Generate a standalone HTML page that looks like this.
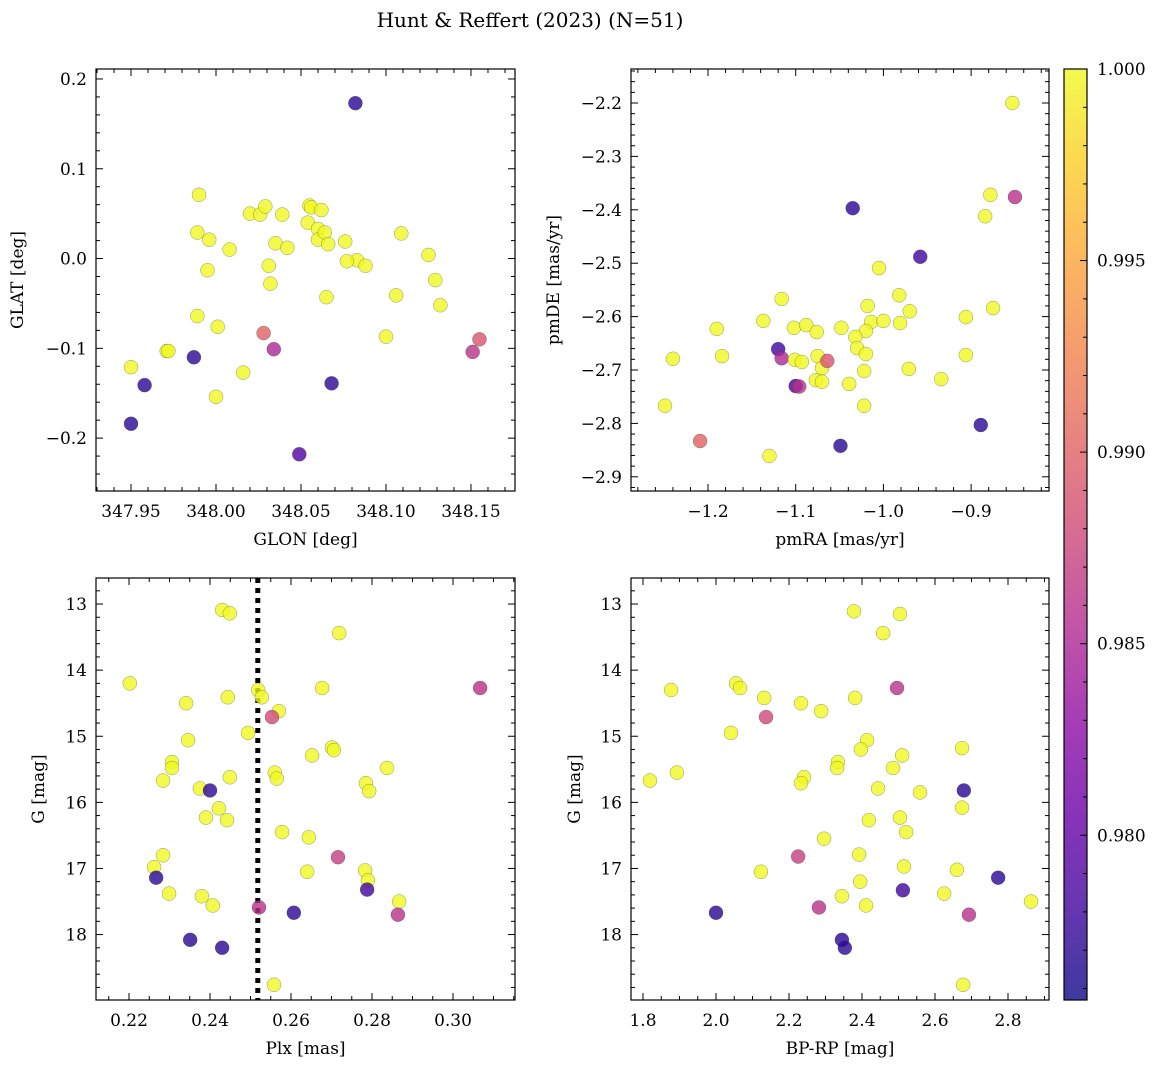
<!DOCTYPE html>
<html><head><meta charset="utf-8">
<style>
body{margin:0;background:#fff;}
svg{display:block;font-family:"DejaVu Serif","Liberation Serif",serif;}
</style></head>
<body>
<svg id="fig" width="1161" height="1068" viewBox="0 0 1161 1068" xmlns="http://www.w3.org/2000/svg">
<defs>
<linearGradient id="plasma" x1="0" y1="1" x2="0" y2="0">
<stop offset="0" stop-color="#0d0887"/><stop offset="0.1" stop-color="#41049d"/><stop offset="0.2" stop-color="#6a00a8"/><stop offset="0.3" stop-color="#8f0da4"/><stop offset="0.4" stop-color="#b12a90"/><stop offset="0.5" stop-color="#cc4778"/><stop offset="0.6" stop-color="#e16462"/><stop offset="0.7" stop-color="#f2844b"/><stop offset="0.8" stop-color="#fca636"/><stop offset="0.9" stop-color="#fcce25"/><stop offset="1" stop-color="#f0f921"/>
</linearGradient>
</defs>
<text x="530" y="27" font-size="20" text-anchor="middle">Hunt &amp; Reffert (2023) (N=51)</text>
</svg>
<script>
// ---- data ----
const glon=[348.082,347.990,348.020,348.026,348.029,348.039,348.055,348.056,348.062,347.989,347.996,348.008,348.035,348.042,348.054,348.060,348.060,348.064,348.066,348.076,348.083,348.077,348.088,348.109,348.125,348.129,348.132,348.106,348.065,348.031,348.032,347.995,347.989,348.001,348.100,348.028,348.034,347.971,347.972,347.987,347.950,347.958,348.016,348.000,348.068,348.151,348.155,347.950,348.049];
const glat=[0.173,0.071,0.050,0.049,0.058,0.049,0.059,0.057,0.054,0.029,0.021,0.010,0.017,0.012,0.040,0.033,0.021,0.029,0.016,0.019,-0.002,-0.003,-0.008,0.028,0.004,-0.024,-0.052,-0.041,-0.043,-0.008,-0.028,-0.013,-0.064,-0.076,-0.087,-0.083,-0.101,-0.103,-0.103,-0.110,-0.121,-0.141,-0.127,-0.154,-0.139,-0.104,-0.090,-0.184,-0.218];
const prob1=[0.977,1,1,1,1,1,1,1,1,1,1,1,1,1,1,1,1,1,1,1,1,1,1,1,1,1,1,1,1,1,1,1,1,1,1,0.990,0.985,1,1,0.977,1,0.977,1,1,0.977,0.986,0.989,0.977,0.979];

const pmra=[-0.853,-0.878,-0.884,-0.850,-1.035,-0.958,-1.005,-1.116,-0.982,-1.190,-1.137,-1.102,-1.088,-1.076,-1.048,-1.018,-1.014,-1.000,-0.981,-0.970,-0.906,-0.875,-1.020,-1.032,-1.030,-1.020,-1.240,-1.184,-1.120,-1.116,-1.101,-1.093,-1.075,-1.070,-1.064,-1.022,-0.971,-0.906,-1.077,-1.070,-1.039,-0.934,-1.100,-1.096,-1.249,-1.022,-1.209,-1.130,-1.049,-0.889];
const pmde=[-2.200,-2.372,-2.412,-2.376,-2.397,-2.488,-2.509,-2.567,-2.560,-2.623,-2.608,-2.621,-2.616,-2.629,-2.621,-2.580,-2.610,-2.608,-2.612,-2.590,-2.601,-2.584,-2.627,-2.638,-2.659,-2.670,-2.679,-2.674,-2.661,-2.678,-2.681,-2.685,-2.674,-2.696,-2.683,-2.702,-2.698,-2.672,-2.719,-2.722,-2.726,-2.717,-2.730,-2.731,-2.767,-2.767,-2.833,-2.861,-2.842,-2.803];
const prob2=[1,1,1,0.986,0.977,0.978,1,1,1,1,1,1,1,1,1,1,1,1,1,1,1,1,1,1,1,1,1,1,0.978,0.985,1,1,1,1,0.989,1,1,1,1,1,1,1,0.978,0.986,1,1,0.990,1,0.977,0.977];

const plx=[0.2430,0.2449,0.2719,0.2202,0.2519,0.2528,0.2444,0.2677,0.3067,0.2341,0.2570,0.2553,0.2494,0.2346,0.2306,0.2306,0.2652,0.2701,0.2706,0.2837,0.2560,0.2565,0.2449,0.2284,0.2375,0.2400,0.2785,0.2793,0.2422,0.2390,0.2442,0.2578,0.2644,0.2284,0.2716,0.2262,0.2640,0.2783,0.2790,0.2267,0.2788,0.2299,0.2380,0.2407,0.2521,0.2867,0.2864,0.2607,0.2351,0.2430,0.2558];
const gmag3=[13.09,13.14,13.44,14.20,14.30,14.41,14.41,14.27,14.27,14.50,14.62,14.71,14.95,15.06,15.39,15.48,15.29,15.17,15.21,15.48,15.55,15.64,15.62,15.67,15.79,15.82,15.71,15.83,16.09,16.23,16.27,16.45,16.53,16.80,16.83,16.98,17.05,17.03,17.18,17.14,17.32,17.38,17.42,17.56,17.59,17.50,17.70,17.67,18.08,18.20,18.76];
const prob3=[1,1,1,1,1,1,1,1,0.986,1,1,0.988,1,1,1,1,1,1,1,1,1,1,1,1,1,0.977,1,1,1,1,1,1,1,1,0.987,1,1,1,1,0.977,0.978,1,1,1,0.986,1,0.986,0.977,0.977,0.977,1];

const bprp=[2.378,2.504,2.458,2.055,2.066,1.877,2.496,2.132,2.233,2.381,2.288,2.137,2.041,2.414,2.397,2.510,2.334,2.332,2.485,2.674,1.893,1.819,2.241,2.233,2.444,2.679,2.559,2.674,2.419,2.504,2.521,2.296,2.392,2.225,2.515,2.123,2.660,2.395,2.773,2.512,2.345,2.625,2.411,2.863,2.282,2.693,2.000,2.345,2.353,2.677];
const gmag4=[13.11,13.15,13.44,14.20,14.27,14.30,14.27,14.42,14.50,14.42,14.62,14.71,14.95,15.06,15.20,15.29,15.39,15.48,15.48,15.18,15.55,15.67,15.62,15.71,15.79,15.82,15.85,16.08,16.27,16.23,16.45,16.55,16.79,16.82,16.97,17.05,17.02,17.20,17.14,17.33,17.42,17.38,17.56,17.50,17.59,17.70,17.67,18.08,18.20,18.76];
const prob4=[1,1,1,1,1,1,0.986,1,1,1,1,0.988,1,1,1,1,1,1,1,1,1,1,1,1,1,0.977,1,1,1,1,1,1,1,0.987,1,1,1,1,0.977,0.978,1,1,1,1,0.986,0.986,0.977,0.977,0.977,1];

const cbTicks=[0.980,0.985,0.990,0.995,1.000];
const plxCut=0.2518;

// ---- rendering ----
const NS="http://www.w3.org/2000/svg";
const fig=document.getElementById('fig');
function mk(tag,attrs,parent){const e=document.createElementNS(NS,tag);for(const k in attrs)e.setAttribute(k,attrs[k]);(parent||fig).appendChild(e);return e;}
const stops=[[0,[13,8,135]],[0.1,[65,4,157]],[0.2,[106,0,168]],[0.3,[143,13,164]],[0.4,[177,42,144]],[0.5,[204,71,120]],[0.6,[225,100,98]],[0.7,[242,132,75]],[0.8,[252,166,54]],[0.9,[252,206,37]],[1,[240,249,33]]];
const vmin=0.9757,vmax=1.0;
function cmap(p){let t=Math.max(0,Math.min(1,(p-vmin)/(vmax-vmin)));for(let i=1;i<stops.length;i++){if(t<=stops[i][0]){const a=stops[i-1],b=stops[i];const f=(t-a[0])/(b[0]-a[0]);const c=a[1].map((v,j)=>Math.round(v+(b[1][j]-v)*f));return `rgb(${c})`;}}return 'rgb(240,249,33)';}

function panel(o){
  const g=mk('g',{});
  
  
  const sx=v=>o.x0+(v-o.xmin)/(o.xmax-o.xmin)*(o.x1-o.x0);
  const sy=o.invertY ? (v=>o.y0+(v-o.ymin)/(o.ymax-o.ymin)*(o.y1-o.y0)) : (v=>o.y1-(v-o.ymin)/(o.ymax-o.ymin)*(o.y1-o.y0));
  if(o.vline!==undefined){const l=mk('line',{x1:sx(o.vline),x2:sx(o.vline),y1:o.y0,y2:o.y1,stroke:'#000','stroke-width':5,'stroke-dasharray':'5,5'},g);
    
    }
  for(let i=0;i<o.xs.length;i++){
    const c=mk('circle',{cx:sx(o.xs[i]),cy:sy(o.ys[i]),r:7,fill:cmap(o.ps[i]),'fill-opacity':0.8,stroke:'#333','stroke-opacity':0.5,'stroke-width':0.5},g);
    
    
  }
  const fr=mk('rect',{x:o.x0,y:o.y0,width:o.x1-o.x0,height:o.y1-o.y0,fill:'none',stroke:'#000','stroke-width':1.2},g);
  
  
  const eps=1e-9;
  const xmn=o.xstep/o.xsub;
  for(let v=Math.ceil(o.xmin/xmn-eps)*xmn;v<=o.xmax+eps;v+=xmn){
    const k=Math.round(v/xmn); const major=k%o.xsub===0; const L=major?7:4; const X=sx(v);
    mk('line',{x1:X,x2:X,y1:o.y1,y2:o.y1-L,stroke:'#000','stroke-width':1},g);
    mk('line',{x1:X,x2:X,y1:o.y0,y2:o.y0+L,stroke:'#000','stroke-width':1},g);
    if(major){const t=mk('text',{x:X,y:o.y1+26,'font-size':17,'text-anchor':'middle'},g);t.textContent=o.xfmt(k*xmn);
      
      }
  }
  const ymn=o.ystep/o.ysub;
  for(let v=Math.ceil(o.ymin/ymn-eps)*ymn;v<=o.ymax+eps;v+=ymn){
    const k=Math.round(v/ymn); const major=k%o.ysub===0; const L=major?7:4; const Y=sy(v);
    mk('line',{x1:o.x0,x2:o.x0+L,y1:Y,y2:Y,stroke:'#000','stroke-width':1},g);
    mk('line',{x1:o.x1,x2:o.x1-L,y1:Y,y2:Y,stroke:'#000','stroke-width':1},g);
    if(major){const t=mk('text',{x:o.x0-9,y:Y+6,'font-size':17,'text-anchor':'end'},g);t.textContent=o.yfmt(k*ymn);
      
      }
  }
  const xl=mk('text',{x:(o.x0+o.x1)/2,y:o.y1+54,'font-size':17,'text-anchor':'middle'},g);xl.textContent=o.xlabel;
  
  
  const yx=o.ylx,yy=(o.y0+o.y1)/2;
  const yl=mk('text',{x:yx,y:yy,'font-size':17,'text-anchor':'middle',transform:`rotate(-90 ${yx} ${yy})`},g);yl.textContent=o.ylabel;
  
  
}
const minus=s=>s.replace('-','\u2212');
panel({name:'glon-glat-panel',x0:96,x1:515,y0:69,y1:491,xmin:347.9294,xmax:348.1759,ymin:-0.2589,ymax:0.2111,xstep:0.05,xsub:5,ystep:0.1,ysub:5,
  xs:glon,ys:glat,ps:prob1,xfmt:v=>v.toFixed(2),yfmt:v=>minus(v.toFixed(1)),xlabel:'GLON [deg]',ylabel:'GLAT [deg]',ylx:23});
panel({name:'proper-motion-panel',x0:631,x1:1049,y0:69,y1:491,xmin:-1.2878,xmax:-0.8112,ymin:-2.9266,ymax:-2.1363,xstep:0.1,xsub:5,ystep:0.1,ysub:5,
  xs:pmra,ys:pmde,ps:prob2,xfmt:v=>minus(v.toFixed(1)),yfmt:v=>minus(v.toFixed(1)),xlabel:'pmRA [mas/yr]',ylabel:'pmDE [mas/yr]',ylx:559});
panel({name:'plx-g-panel',x0:96,x1:515,y0:578,y1:1000,xmin:0.21185,xmax:0.31531,ymin:12.606,ymax:18.99,xstep:0.02,xsub:4,ystep:1,ysub:5,invertY:true,
  xs:plx,ys:gmag3,ps:prob3,xfmt:v=>v.toFixed(2),yfmt:v=>v.toFixed(0),xlabel:'Plx [mas]',ylabel:'G [mag]',ylx:44,vline:plxCut});
panel({name:'cmd-panel',x0:631,x1:1049,y0:578,y1:1000,xmin:1.7671,xmax:2.9123,ymin:12.606,ymax:18.99,xstep:0.2,xsub:4,ystep:1,ysub:5,invertY:true,
  xs:bprp,ys:gmag4,ps:prob4,xfmt:v=>v.toFixed(1),yfmt:v=>v.toFixed(0),xlabel:'BP-RP [mag]',ylabel:'G [mag]',ylx:580});

// colorbar
const cb=mk('g',{});


const cx0=1064,cx1=1087,cy0=69,cy1=1000;
mk('rect',{x:cx0,y:cy0,width:cx1-cx0,height:cy1-cy0,fill:'url(#plasma)','fill-opacity':0.8},cb);
mk('rect',{x:cx0,y:cy0,width:cx1-cx0,height:cy1-cy0,fill:'none',stroke:'#000','stroke-width':1.2},cb);
const cy=v=>cy1-(v-vmin)/(vmax-vmin)*(cy1-cy0);
for(let k=Math.ceil(vmin/0.001);k<=1000;k++){
  const v=k/1000; const major=k%5===0; const L=major?7:4; const Y=cy(v);
  mk('line',{x1:cx1,x2:cx1-L,y1:Y,y2:Y,stroke:'#000','stroke-width':1},cb);
}
cbTicks.forEach(v=>{const t=mk('text',{x:cx1+10,y:cy(v)+6,'font-size':17},cb);t.textContent=v.toFixed(3);
  
  });
</script>
</body></html>
